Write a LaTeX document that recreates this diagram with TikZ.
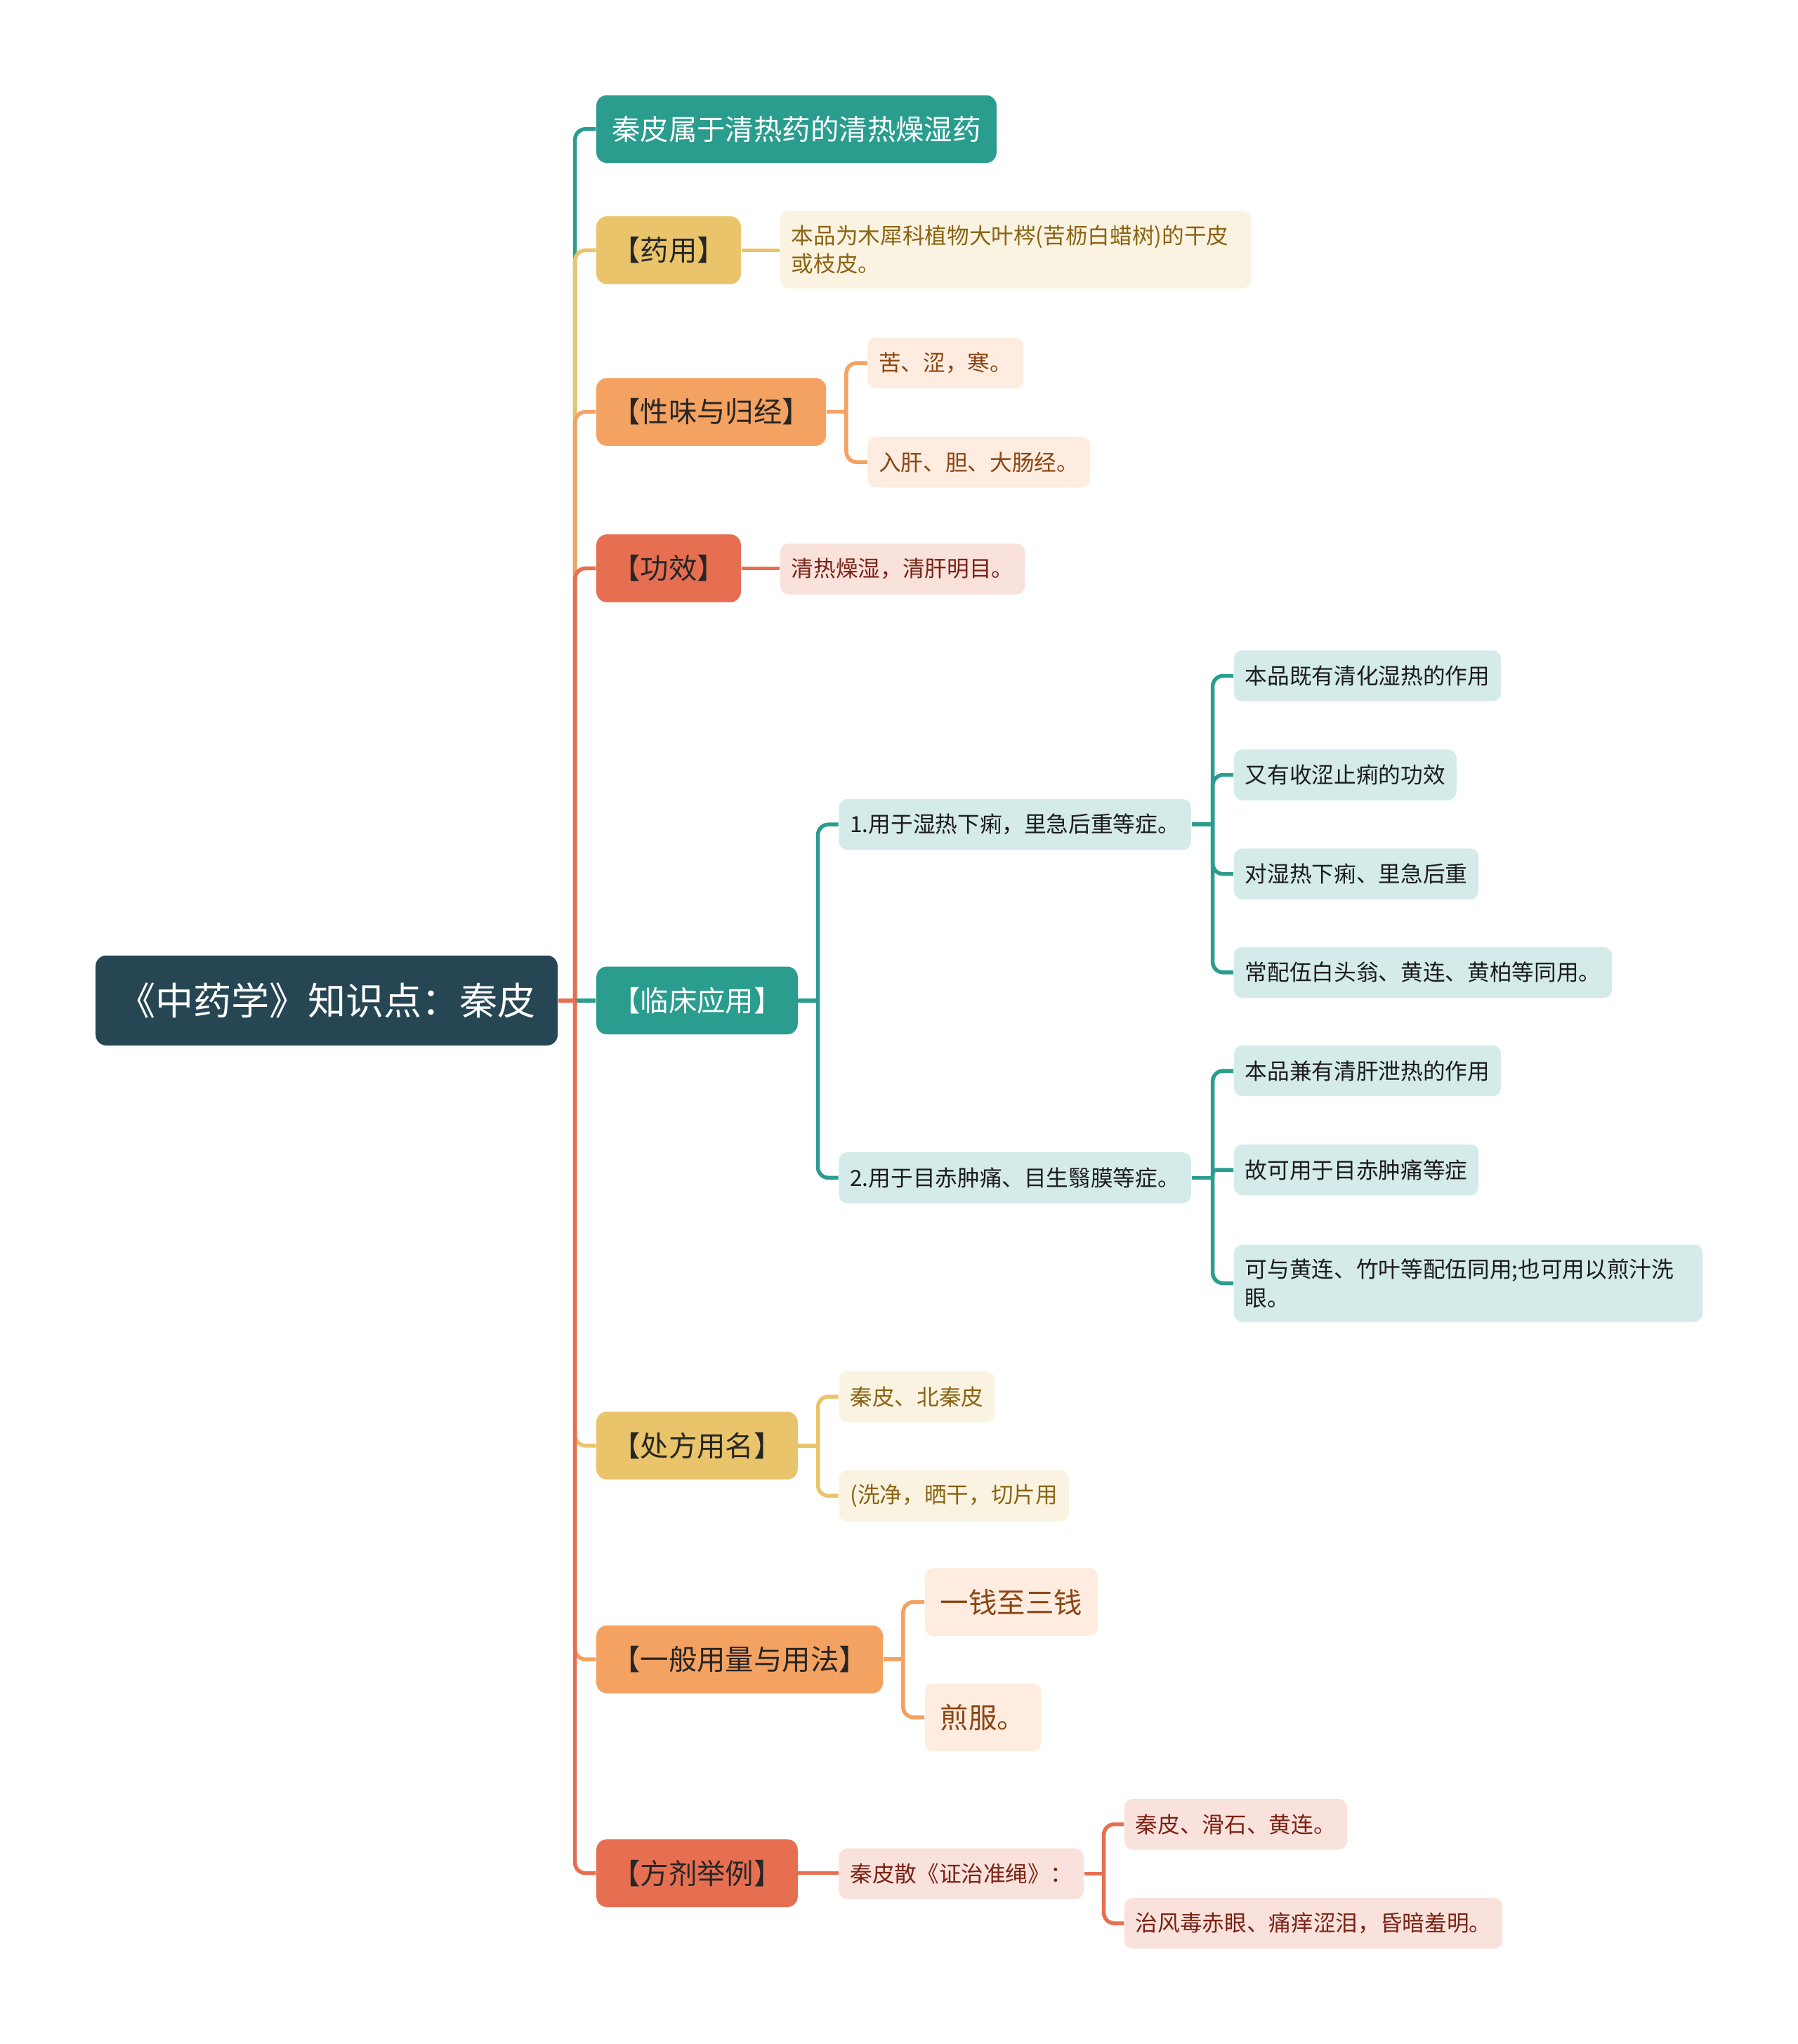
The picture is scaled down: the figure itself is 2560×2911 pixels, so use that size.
\documentclass[tikz,border=0pt]{standalone}
\usepackage{fontspec}
\setmainfont{Noto Sans CJK SC}

\definecolor{cdark}{HTML}{264653}
\definecolor{cteal}{HTML}{2A9D8F}
\definecolor{cgold}{HTML}{E9C46A}
\definecolor{capri}{HTML}{F4A261}
\definecolor{ccoral}{HTML}{E76F51}
\definecolor{tteal}{HTML}{1C1C1C}
\definecolor{tgold}{HTML}{8A6414}
\definecolor{tapri}{HTML}{8B4513}
\definecolor{tcoral}{HTML}{7A2214}

\begin{document}
\begin{tikzpicture}[x=0.01cm,y=-0.01cm,
    rootbox/.style={fill=cdark,text=white,rounded corners=0.15cm,minimum height=1.28cm,
        inner xsep=0.31cm,font=\fontsize{15.4}{18}\selectfont,anchor=west},
    lvone/.style={fill=#1,text=black!85,rounded corners=0.15cm,minimum height=0.965cm,
        inner xsep=0.22cm,font=\fontsize{11.5}{14}\selectfont,anchor=west},
    lvtwo/.style 2 args={fill=#1!20,text=#2,rounded corners=0.12cm,minimum height=0.724cm,
        inner xsep=0.16cm,inner ysep=0.2cm,font=\fontsize{9}{11.6}\selectfont,align=left,anchor=west},
    bigleaf/.style={font=\fontsize{11.5}{14}\selectfont,minimum height=0.965cm,inner xsep=0.22cm},
    conn/.style={draw=#1,line width=0.055cm,rounded corners=0.15cm}]
\useasboundingbox (0,0) rectangle (2560,2911);

% Wurzel
\node[rootbox] (wurzel) at (135.5,1424.8) {《中药学》知识点：秦皮};

% erste Ebene
\node[lvone=cteal,text=white] (shuxing) at (848.4,183.8) {秦皮属于清热药的清热燥湿药};
\node[lvone=cgold] (yaoyong) at (848.4,356.4) {【药用】};
\node[lvone=capri] (xingwei) at (848.4,586.6) {【性味与归经】};
\node[lvone=ccoral] (gongxiao) at (848.4,809.4) {【功效】};
\node[lvone=cteal,text=white] (linchuang) at (848.4,1424.8) {【临床应用】};
\node[lvone=cgold] (chufang) at (848.4,2058.8) {【处方用名】};
\node[lvone=capri] (yongliang) at (848.4,2363.2) {【一般用量与用法】};
\node[lvone=ccoral] (fangji) at (848.4,2667.7) {【方剂举例】};

% zweite Ebene
\node[lvtwo={cgold}{tgold},text width=6.38cm] (yaoyong1) at (1110.1,355.5) {本品为木犀科植物大叶梣(苦枥白蜡树)的干皮\\或枝皮。};
\node[lvtwo={capri}{tapri}] (xingwei1) at (1234.5,517) {苦、涩，寒。};
\node[lvtwo={capri}{tapri}] (xingwei2) at (1234.5,658.1) {入肝、胆、大肠经。};
\node[lvtwo={ccoral}{tcoral}] (gongxiao1) at (1110.1,810.3) {清热燥湿，清肝明目。};
\node[lvtwo={cteal}{tteal}] (linchuang1) at (1193.7,1174.2) {1.用于湿热下痢，里急后重等症。};
\node[lvtwo={cteal}{tteal}] (linchuang2) at (1193.7,1677.3) {2.用于目赤肿痛、目生翳膜等症。};
\node[lvtwo={cgold}{tgold}] (chufang1) at (1193.7,1989.1) {秦皮、北秦皮};
\node[lvtwo={cgold}{tgold}] (chufang2) at (1193.7,2130.2) {(洗净，晒干，切片用};
\node[lvtwo={capri}{tapri},bigleaf] (yongliang1) at (1316.2,2281.5) {一钱至三钱};
\node[lvtwo={capri}{tapri},bigleaf] (yongliang2) at (1316.2,2445.8) {煎服。};
\node[lvtwo={ccoral}{tcoral}] (fangji1) at (1193.7,2668.6) {秦皮散《证治准绳》：};

% dritte Ebene
\node[lvtwo={cteal}{tteal}] (shire1) at (1756.2,962.5) {本品既有清化湿热的作用};
\node[lvtwo={cteal}{tteal}] (shire2) at (1756.2,1103.6) {又有收涩止痢的功效};
\node[lvtwo={cteal}{tteal}] (shire3) at (1756.2,1244.7) {对湿热下痢、里急后重};
\node[lvtwo={cteal}{tteal}] (shire4) at (1756.2,1384.9) {常配伍白头翁、黄连、黄柏等同用。};
\node[lvtwo={cteal}{tteal}] (muchi1) at (1756.2,1525.0) {本品兼有清肝泄热的作用};
\node[lvtwo={cteal}{tteal}] (muchi2) at (1756.2,1666.1) {故可用于目赤肿痛等症};
\node[lvtwo={cteal}{tteal},text width=6.35cm] (muchi3) at (1756.2,1827.6) {可与黄连、竹叶等配伍同用;也可用以煎汁洗\\眼。};
\node[lvtwo={ccoral}{tcoral}] (fangji11) at (1600.2,2598) {秦皮、滑石、黄连。};
\node[lvtwo={ccoral}{tcoral}] (fangji12) at (1600.2,2739.1) {治风毒赤眼、痛痒涩泪，昏暗羞明。};

% Stamm
\coordinate (j0) at (818.7,1424.8);
\draw[conn=cteal] (j0) |- (shuxing.west);
\draw[conn=cgold] (j0) |- (yaoyong.west);
\draw[conn=capri] (j0) |- (xingwei.west);
\draw[conn=ccoral] (j0) |- (gongxiao.west);
\draw[conn=cteal] (j0) -- (linchuang.west);
\draw[conn=cgold] (j0) |- (chufang.west);
\draw[conn=capri] (j0) |- (yongliang.west);
\draw[conn=ccoral] (j0) |- (fangji.west);
\draw[conn=ccoral] (wurzel.east) -- (j0);

% Zweige
\draw[conn=cgold] (yaoyong.east) -- (yaoyong.east -| yaoyong1.west);
\draw[conn=ccoral] (gongxiao.east) -- (gongxiao.east -| gongxiao1.west);
\draw[conn=ccoral] (fangji.east) -- (fangji.east -| fangji1.west);

\coordinate (j1) at ([xshift=0.28cm]xingwei.east);
\draw[conn=capri] (xingwei.east) -- (j1);
\draw[conn=capri] (j1) |- (xingwei1.west);
\draw[conn=capri] (j1) |- (xingwei2.west);

\coordinate (j2) at ([xshift=0.28cm]linchuang.east);
\draw[conn=cteal] (linchuang.east) -- (j2);
\draw[conn=cteal] (j2) |- (linchuang1.west);
\draw[conn=cteal] (j2) |- (linchuang2.west);

\coordinate (j3) at ([xshift=0.3cm]linchuang1.east);
\draw[conn=cteal] (linchuang1.east) -- (j3);
\draw[conn=cteal] (j3) |- (shire1.west);
\draw[conn=cteal] (j3) |- (shire2.west);
\draw[conn=cteal] (j3) |- (shire3.west);
\draw[conn=cteal] (j3) |- (shire4.west);

\coordinate (j4) at ([xshift=0.3cm]linchuang2.east);
\draw[conn=cteal] (linchuang2.east) -- (j4);
\draw[conn=cteal] (j4) |- (muchi1.west);
\draw[conn=cteal,rounded corners=0.05cm] (j4) |- (muchi2.west);
\draw[conn=cteal] (j4) |- (muchi3.west);

\coordinate (j5) at ([xshift=0.28cm]chufang.east);
\draw[conn=cgold] (chufang.east) -- (j5);
\draw[conn=cgold] (j5) |- (chufang1.west);
\draw[conn=cgold] (j5) |- (chufang2.west);

\coordinate (j6) at ([xshift=0.28cm]yongliang.east);
\draw[conn=capri] (yongliang.east) -- (j6);
\draw[conn=capri] (j6) |- (yongliang1.west);
\draw[conn=capri] (j6) |- (yongliang2.west);

\coordinate (j7) at ([xshift=0.28cm]fangji1.east);
\draw[conn=ccoral] (fangji1.east) -- (j7);
\draw[conn=ccoral] (j7) |- (fangji11.west);
\draw[conn=ccoral] (j7) |- (fangji12.west);
\end{tikzpicture}
\end{document}
